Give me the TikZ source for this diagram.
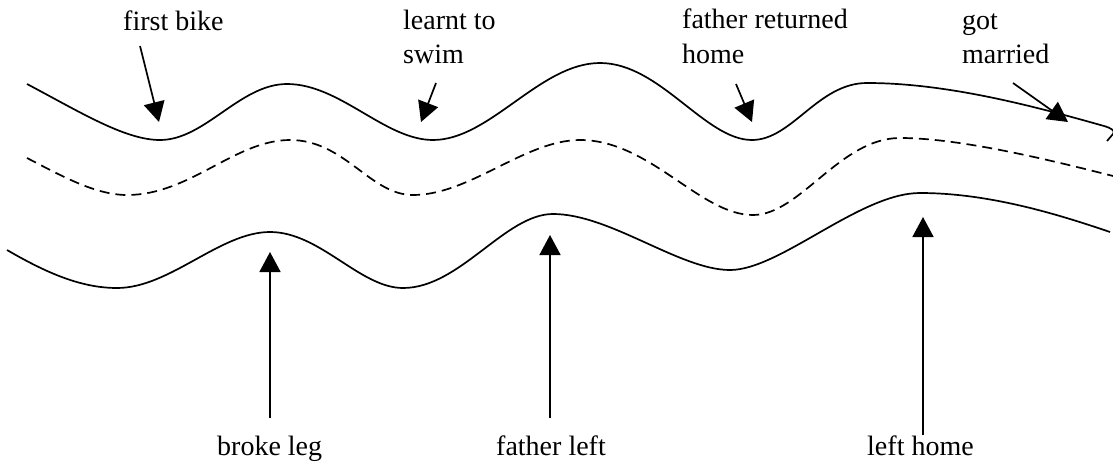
\documentclass[tikz,border=0pt]{standalone}
\usepackage{fontspec}
\setmainfont{Liberation Serif}
\usetikzlibrary{arrows.meta}
\begin{document}
\begin{tikzpicture}[x=1pt,y=-1pt,
  lbl/.style={anchor=base west,inner sep=0pt,font=\fontsize{28}{34}\selectfont},
  wave/.style={line width=1.7pt},
  dwave/.style={line width=1.7pt,dash pattern=on 10pt off 6pt},
  ptr/.style={line width=1.7pt,-{Triangle[length=20pt,width=21pt]}}]
\useasboundingbox (0,0) rectangle (1113,463);
% labels
\node[lbl] (bike) at (123,30) {first bike};
\node[lbl] (swimA) at (403,29) {learnt to};
\node[lbl] (swimB) at (403,63) {swim};
\node[lbl] (retA) at (682,28) {father returned};
\node[lbl] (retB) at (682,63) {home};
\node[lbl] (marA) at (962,29) {got};
\node[lbl] (marB) at (962,63) {married};
\node[lbl] (leg) at (217,455) {broke leg};
\node[lbl] (fleft) at (496,455) {father left};
\node[lbl] (lhome) at (867,455) {left home};
% waves
\draw[wave] (27,84) .. controls (80,112) and (125,140) .. (160,140)
  .. controls (205,140) and (240,84) .. (287,84)
  .. controls (340,84) and (385,140) .. (433,140)
  .. controls (490,140) and (540,63) .. (600,63)
  .. controls (660,63) and (705,140) .. (752,140)
  .. controls (792,140) and (818,83) .. (867,83)
  .. controls (950,83) and (1040,108) .. (1104,126)
  .. controls (1111,128) and (1116,131) .. (1113,134) -- (1107,141);
\draw[dwave] (27,158) .. controls (60,175) and (95,195) .. (127,195)
  .. controls (190,195) and (235,140) .. (290,140)
  .. controls (345,140) and (370,195) .. (413,195)
  .. controls (470,195) and (525,140) .. (580,140)
  .. controls (650,140) and (700,215) .. (753,215)
  .. controls (800,215) and (840,138) .. (900,138)
  .. controls (960,138) and (1050,160) .. (1113,176);
\draw[wave] (7,250) .. controls (45,272) and (80,288) .. (117,288)
  .. controls (170,288) and (220,232) .. (270,232)
  .. controls (320,232) and (360,288) .. (403,288)
  .. controls (460,288) and (505,214) .. (553,214)
  .. controls (610,214) and (680,270) .. (730,270)
  .. controls (780,270) and (860,193) .. (920,193)
  .. controls (990,193) and (1060,215) .. (1110,232);
% arrow end points
\coordinate (bikeS) at (140,46);  \coordinate (bikeT) at (159,122);
\coordinate (swimS) at (436,83);  \coordinate (swimT) at (421,122);
\coordinate (retS) at (736,84);   \coordinate (retT) at (752,122);
\coordinate (marS) at (1013,83);  \coordinate (marT) at (1068,122);
\coordinate (legS) at (270,418);  \coordinate (legT) at (270,252);
\coordinate (flS) at (550,418);   \coordinate (flT) at (550,235);
\coordinate (lhS) at (923,435);   \coordinate (lhT) at (923,217);
\draw[ptr] (bikeS) -- (bikeT);
\draw[ptr] (swimS) -- (swimT);
\draw[ptr] (retS) -- (retT);
\draw[ptr] (marS) -- (marT);
\draw[ptr] (legS) -- (legT);
\draw[ptr] (flS) -- (flT);
\draw[ptr] (lhS) -- (lhT);
\end{tikzpicture}
\end{document}
